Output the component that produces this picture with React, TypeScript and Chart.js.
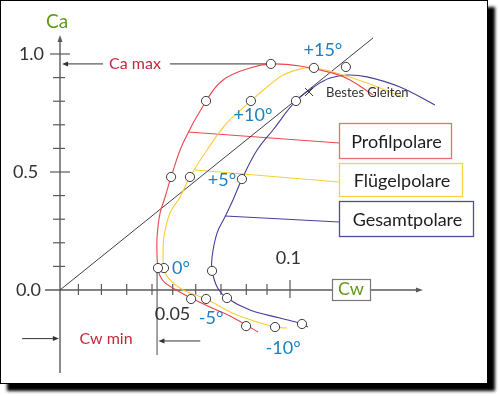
import React, { useEffect, useRef } from "react";
import { Chart, registerables } from "chart.js";
Chart.register(...registerables);

// ---- Data (Cw = drag coefficient, Ca = lift coefficient) ----
const profilCw = [0.1361, 0.1261, 0.1187, 0.1043, 0.0917, 0.0826, 0.0709, 0.0635, 0.0535, 0.0483, 0.0457, 0.0435, 0.0422, 0.0422, 0.0426, 0.0435, 0.0457, 0.0513, 0.057, 0.0652, 0.0739, 0.0809, 0.0861];
const profilCa = [0.826, 0.89, 0.919, 0.949, 0.958, 0.941, 0.89, 0.801, 0.623, 0.479, 0.394, 0.326, 0.225, 0.14, 0.093, 0.059, 0.03, -0.004, -0.034, -0.072, -0.11, -0.148, -0.178];

const fluegelCw = [0.1487, 0.1335, 0.1187, 0.1104, 0.1043, 0.097, 0.09, 0.083, 0.0726, 0.0639, 0.0565, 0.0522, 0.0478, 0.0452, 0.0448, 0.0452, 0.047, 0.0535, 0.0635, 0.077, 0.0935, 0.0987];
const fluegelCa = [0.818, 0.877, 0.924, 0.941, 0.936, 0.911, 0.86, 0.801, 0.708, 0.593, 0.479, 0.394, 0.326, 0.225, 0.14, 0.093, 0.051, 0.0, -0.038, -0.106, -0.157, -0.161];

const gesamtCw = [0.163, 0.1478, 0.1335, 0.1248, 0.1174, 0.1117, 0.1026, 0.0926, 0.0857, 0.0791, 0.0752, 0.0717, 0.0683, 0.0661, 0.0661, 0.0683, 0.0726, 0.0826, 0.0957, 0.1052, 0.1078];
const gesamtCa = [0.784, 0.86, 0.903, 0.911, 0.898, 0.869, 0.801, 0.678, 0.593, 0.47, 0.381, 0.309, 0.242, 0.14, 0.085, 0.013, -0.034, -0.085, -0.119, -0.144, -0.157];

// angle-of-attack points: +15, +10, +5, 0, -5, -10 degrees
const angleLabels = ["+15°", "+10°", "+5°", "0°", "-5°", "-10°"];
const profilPtCw = [0.0917, 0.0635, 0.0483, 0.0426, 0.057, 0.0809];
const profilPtCa = [0.958, 0.801, 0.479, 0.093, -0.038, -0.153];
const fluegelPtCw = [0.1104, 0.083, 0.0565, 0.0452, 0.0635, 0.0935];
const fluegelPtCa = [0.941, 0.801, 0.479, 0.093, -0.038, -0.157];
const gesamtPtCw = [0.1243, 0.1026, 0.0791, 0.0661, 0.0726, 0.1052];
const gesamtPtCa = [0.945, 0.801, 0.47, 0.081, -0.034, -0.144];

// tangent from origin ("Bestes Gleiten")
const tangentCw = [0, 0.1361];
const tangentCa = [0, 1.068];
const bestGlideCw = 0.1083;
const bestGlideCa = 0.839;

const caMax = 0.958;
const cwMin = 0.0422;

const yTickValues = [0.1, 0.2, 0.3, 0.4, 0.5, 0.6, 0.7, 0.8, 0.9, 1.0];
const yMajorTicks = [0.5, 1.0];
const yTickLabels = ["1.0", "0.5", "0.0"];
const xTickValues = [0.008, 0.018, 0.029, 0.04, 0.049, 0.059, 0.07, 0.081, 0.09, 0.1];
const xTickLabels = ["0.05", "0.1"];

const seriesNames = ["Profilpolare", "Flügelpolare", "Gesamtpolare"];

// ---- styles ----
const RED = "#e8474d";
const YELLOW = "#fccd36";
const BLUE = "#4b3c9b";
const BOX_RED = "#ea6f6f";
const BOX_YELLOW = "#f9d24c";
const BOX_BLUE = "#4f4aa0";
const ANGLE_BLUE = "#1c80c4";
const TEXT_RED = "#c6283b";
const GREEN = "#5f9a1c";
const AXIS = "#5a5a5a";
const FONT = "Lato, 'DejaVu Sans', sans-serif";

const zip = (a: number[], b: number[]) => a.map((v, i) => ({ x: v, y: b[i] }));

function drawArrow(ctx: CanvasRenderingContext2D, x1: number, y1: number, x2: number, y2: number, color: string, lw: number, head = 7) {
  const ang = Math.atan2(y2 - y1, x2 - x1);
  ctx.strokeStyle = color;
  ctx.fillStyle = color;
  ctx.lineWidth = lw;
  ctx.beginPath();
  ctx.moveTo(x1, y1);
  ctx.lineTo(x2 - Math.cos(ang) * head * 0.6, y2 - Math.sin(ang) * head * 0.6);
  ctx.stroke();
  ctx.beginPath();
  ctx.moveTo(x2, y2);
  ctx.lineTo(x2 - head * Math.cos(ang) + 2.5 * Math.sin(ang), y2 - head * Math.sin(ang) - 2.5 * Math.cos(ang));
  ctx.lineTo(x2 - head * Math.cos(ang) - 2.5 * Math.sin(ang), y2 - head * Math.sin(ang) + 2.5 * Math.cos(ang));
  ctx.closePath();
  ctx.fill();
}

function seg(ctx: CanvasRenderingContext2D, x1: number, y1: number, x2: number, y2: number, color: string, lw: number) {
  ctx.strokeStyle = color;
  ctx.lineWidth = lw;
  ctx.beginPath();
  ctx.moveTo(x1, y1);
  ctx.lineTo(x2, y2);
  ctx.stroke();
}

function text(ctx: CanvasRenderingContext2D, s: string, x: number, y: number, size: number, color: string, align: CanvasTextAlign = "center", weight = "normal") {
  ctx.font = `${weight} ${size}px ${FONT}`;
  ctx.fillStyle = color;
  ctx.textAlign = align;
  ctx.textBaseline = "middle";
  ctx.fillText(s, x, y);
}

const overlay = {
  id: "overlay",
  beforeDatasetsDraw(chart: any) {
    const { ctx, scales } = chart;
    const X = (v: number) => scales.x.getPixelForValue(v);
    const Y = (v: number) => scales.y.getPixelForValue(v);
    ctx.save();
    ctx.lineCap = "butt";
    // axes
    drawArrow(ctx, X(0), Y(-0.352), X(0), Y(1.08), AXIS, 1.4, 7);
    drawArrow(ctx, X(-0.0065), Y(0), X(0.1578), Y(0), AXIS, 1.4, 7);
    // y ticks
    yTickValues.forEach((v) => {
      const major = yMajorTicks.includes(v);
      seg(ctx, X(0) - (major ? 10 : 7), Y(v), X(0) + (major ? 10 : 5), Y(v), AXIS, 1.2);
    });
    // x ticks
    xTickValues.forEach((v, i) => {
      const last = i === xTickValues.length - 1;
      seg(ctx, X(v), Y(0) - (last ? 10 : 6), X(v), Y(0) + (last ? 8 : 5), AXIS, 1.2);
    });
    // Cw min vertical line
    seg(ctx, X(cwMin), Y(0.106), X(cwMin), Y(-0.275), AXIS, 1.1);
    // Cw min arrows
    drawArrow(ctx, X(-0.0165), Y(-0.206), X(-0.0005), Y(-0.206), "#333", 1, 6);
    drawArrow(ctx, X(0.061), Y(-0.216), X(cwMin + 0.0006), Y(-0.216), "#333", 1, 6);
    // Ca max line with arrow
    drawArrow(ctx, X(0.0187), Y(caMax), X(0.0009), Y(caMax), "#333", 1, 6);
    seg(ctx, X(0.0478), Y(caMax), X(0.0905), Y(caMax), "#333", 1);
    // legend connectors
    seg(ctx, X(0.0557), Y(0.6695), X(0.1213), Y(0.6229), RED, 1);
    seg(ctx, X(0.0587), Y(0.5085), X(0.1213), Y(0.4576), YELLOW, 1);
    seg(ctx, X(0.0717), Y(0.3136), X(0.1213), Y(0.2881), BLUE, 1);
    ctx.restore();
  },
  afterDatasetsDraw(chart: any) {
    const { ctx, scales } = chart;
    const X = (v: number) => scales.x.getPixelForValue(v);
    const Y = (v: number) => scales.y.getPixelForValue(v);
    ctx.save();
    // best glide marker
    const bx = X(bestGlideCw), by = Y(bestGlideCa);
    seg(ctx, bx - 4, by - 4, bx + 4, by + 4, "#333", 1);
    seg(ctx, bx - 4, by + 4, bx + 4, by - 4, "#333", 1);
    text(ctx, "Bestes Gleiten", X(0.1157), Y(0.835), 13, "#333", "left");

    // axis titles & tick labels
    text(ctx, "Ca", X(-0.0013), Y(1.136), 19, GREEN);
    text(ctx, yTickLabels[0], X(-0.0124), Y(1.0), 18, "#333");
    text(ctx, yTickLabels[1], X(-0.015), Y(0.5), 18, "#333");
    text(ctx, yTickLabels[2], X(-0.0137), Y(0.0), 18, "#333");
    text(ctx, xTickLabels[0], X(0.0489), Y(-0.102), 18, "#333");
    text(ctx, xTickLabels[1], X(0.0993), Y(0.136), 18, "#333");

    // Cw box
    ctx.fillStyle = "#fff";
    ctx.fillRect(X(0.1183), Y(0.0466), X(0.1348) - X(0.1183), Y(-0.0424) - Y(0.0466));
    ctx.strokeStyle = "#777";
    ctx.lineWidth = 1.2;
    ctx.strokeRect(Math.round(X(0.1183)) + 0.5, Math.round(Y(0.0466)) + 0.5, Math.round(X(0.1348) - X(0.1183)), Math.round(Y(-0.0424) - Y(0.0466)));
    text(ctx, "Cw", X(0.1265), Y(0.002), 18, GREEN);

    text(ctx, "Ca max", X(0.0326), Y(caMax), 16, TEXT_RED);
    text(ctx, "Cw min", X(0.02), Y(-0.207), 16, TEXT_RED);

    // angle labels
    const angleCw = [0.1143, 0.0839, 0.0704, 0.0526, 0.0657, 0.097];
    const angleCa = [1.017, 0.742, 0.466, 0.093, -0.119, -0.246];
    angleLabels.forEach((s, i) => text(ctx, s, X(angleCw[i]), Y(angleCa[i]), 18, ANGLE_BLUE));

    // legend boxes
    const boxes = [
      { l: 0.1213, r: 0.17, t: 0.7076, b: 0.5593, c: BOX_RED },
      { l: 0.1213, r: 0.1748, t: 0.5381, b: 0.3983, c: BOX_YELLOW },
      { l: 0.1213, r: 0.1796, t: 0.3771, b: 0.2288, c: BOX_BLUE },
    ];
    boxes.forEach((bx2, i) => {
      const x1 = Math.round(X(bx2.l)) + 0.5, x2 = Math.round(X(bx2.r)) + 0.5;
      const y1 = Math.round(Y(bx2.t)) + 0.5, y2 = Math.round(Y(bx2.b)) + 0.5;
      ctx.strokeStyle = bx2.c;
      ctx.lineWidth = 1.3;
      ctx.strokeRect(x1, y1, x2 - x1, y2 - y1);
      text(ctx, seriesNames[i], (x1 + x2) / 2 + 1, (y1 + y2) / 2 + 1, 18, "#1e1e1e");
    });
    ctx.restore();
  },
};

export default function App() {
  const ref = useRef<HTMLCanvasElement | null>(null);
  useEffect(() => {
    if (!ref.current) return;
    const circle = (cw: number[], ca: number[]) => ({
      type: "scatter" as const,
      data: zip(cw, ca),
      pointRadius: 4.6,
      pointBackgroundColor: "#ffffff",
      pointBorderColor: "#3a3a3a",
      pointBorderWidth: 1,
      showLine: false,
      order: 0,
    });
    const curve = (cw: number[], ca: number[], color: string, label: string) => ({
      type: "line" as const,
      label,
      data: zip(cw, ca),
      borderColor: color,
      borderWidth: 1.1,
      pointRadius: 0,
      tension: 0.4,
      showLine: true,
      fill: false,
      order: 1,
    });
    const chart = new Chart(ref.current, {
      type: "scatter",
      data: {
        datasets: [
          circle(profilPtCw, profilPtCa),
          circle(fluegelPtCw, fluegelPtCa),
          circle(gesamtPtCw, gesamtPtCa),
          {
            type: "line",
            data: zip(tangentCw, tangentCa),
            borderColor: "#2a2a2a",
            borderWidth: 0.9,
            pointRadius: 0,
            tension: 0,
            showLine: true,
            order: 2,
          } as any,
          curve(profilCw, profilCa, RED, seriesNames[0]),
          curve(fluegelCw, fluegelCa, YELLOW, seriesNames[1]),
          curve(gesamtCw, gesamtCa, BLUE, seriesNames[2]),
        ] as any,
      },
      options: {
        responsive: false,
        maintainAspectRatio: false,
        animation: false,
        layout: { padding: 0, autoPadding: false },
        plugins: { legend: { display: false }, tooltip: { enabled: false } },
        events: [],
        scales: {
          x: { type: "linear", display: false, min: -0.02609, max: 0.19087 },
          y: { type: "linear", display: false, min: -0.44915, max: 1.22881 },
        },
      },
      plugins: [overlay],
    });
    return () => chart.destroy();
  }, []);

  return (
    <div style={{ position: "fixed", left: 0, top: 0, width: 499, height: 396, background: "#fff" }}>
      <div
        style={{
          position: "absolute",
          left: 0,
          top: 0,
          width: 486,
          height: 382,
          border: "1px solid #000",
          background: "#fff",
          boxShadow: "7px 7px 3px #000",
        }}
      />
      <canvas ref={ref} width={499} height={396} style={{ position: "absolute", left: 0, top: 0, width: 499, height: 396 }} />
    </div>
  );
}
